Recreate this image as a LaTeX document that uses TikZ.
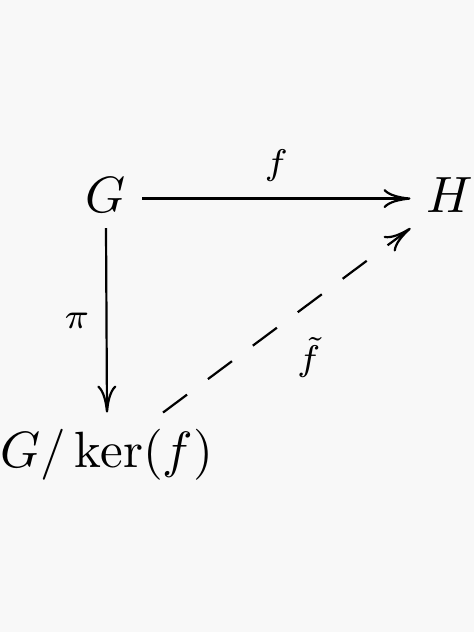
\documentclass[tikz,border=0pt]{standalone}
\usepackage{graphicx}
\usetikzlibrary{arrows.meta}
\definecolor{paper}{HTML}{F8F8F8}
\newcommand\objt[1]{\scalebox{5.1}{$#1$}}
\newcommand\lblt[1]{\scalebox{5.1}{$\scriptstyle #1$}}

\begin{document}
\begin{tikzpicture}[x=1pt,y=-1pt,
    obj/.style={inner sep=16pt,anchor=base},
    lbl/.style={inner sep=16pt},
    map/.style={line width=2.2pt,-{To[length=27pt,width=19pt]}}]
\fill[paper] (0,0) rectangle (474,632);
\useasboundingbox (0,0) rectangle (474,632);
\node[obj] (G) at (106,212) {\objt{G}};
\node[obj] (H) at (450,212) {\objt{H}};
\node[obj] (Q) at (107,467) {\objt{G/\ker(f)}};
\draw[map] ([yshift=-4pt]G.east) -- node[lbl,above] {\lblt{f}} ([yshift=-4pt]H.west);
\draw[map] (G.south) -- node[lbl,left] {\lblt{\pi}} (Q.north);
\draw[map,dash pattern=on 30pt off 26pt] ([xshift=56pt]Q.north) -- node[lbl,below right,inner sep=14pt,xshift=-5pt,yshift=-2pt] {\lblt{\tilde{f}}} (H.south west);
\end{tikzpicture}
\end{document}
